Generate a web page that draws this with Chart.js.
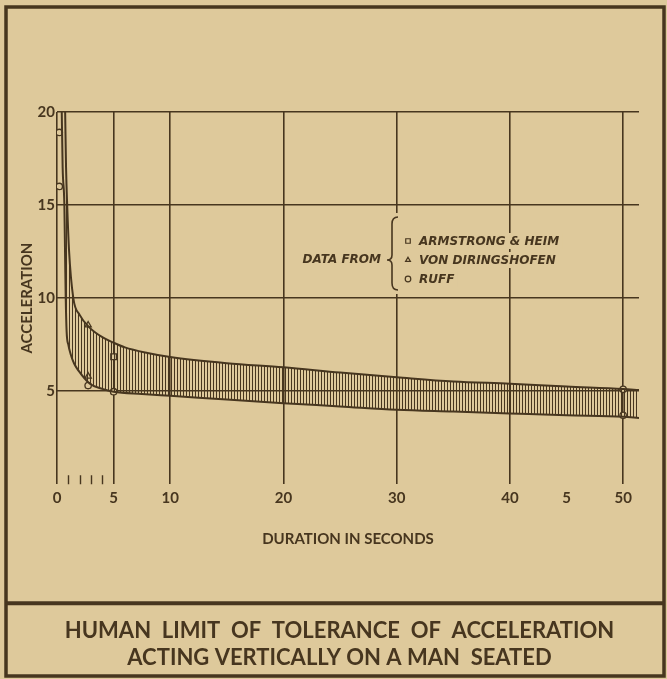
<!DOCTYPE html>
<html>
<head>
<meta charset="utf-8">
<script src="https://cdn.jsdelivr.net/npm/chart.js@4"></script>
<style>
  html, body { margin: 0; padding: 0; background: #dec99b; }
  #wrap { position: relative; width: 667px; height: 679px; }
</style>
</head>
<body>
<div id="wrap"><canvas id="chart"></canvas></div>
<script>
// axis ticks
const xTicks = [0, 5, 10, 20, 30, 40, 45, 50];
const xTickLabels = ['0', '5', '10', '20', '30', '40', '5', '50'];
const xMinorTicks = [1, 2, 3, 4];
const yTickLabels = { 5: '5', 10: '10', 15: '15', 20: '20' };

// limit curves
const upperX = [0.72, 0.8, 0.9, 1.06, 1.44, 2, 2.9, 4, 5, 6, 8, 10, 15, 20, 25, 30, 35, 40, 45, 50, 51.4];
const upperY = [20, 17, 15, 12.6, 10, 9.1, 8.4, 7.9, 7.6, 7.35, 7.05, 6.83, 6.5, 6.28, 6.0, 5.75, 5.52, 5.4, 5.25, 5.12, 5.06];
const lowerX = [0.42, 0.5, 0.65, 0.72, 0.77, 0.85, 1.0, 1.2, 1.5, 1.9, 2.9, 4, 5, 7.5, 10, 15, 20, 25, 30, 35, 40, 45, 50, 51.4];
const lowerY = [20, 17, 15, 12, 10, 8.2, 7.5, 7.0, 6.5, 6.1, 5.4, 5.12, 4.97, 4.85, 4.75, 4.55, 4.35, 4.18, 4.0, 3.9, 3.8, 3.7, 3.62, 3.56];

// observed data
const armstrongX = [5];
const armstrongY = [6.85];
const diringshofenX = [2.75, 2.75];
const diringshofenY = [8.55, 5.8];
const ruffX = [0.2, 0.2, 2.75, 5, 50, 50];
const ruffY = [18.9, 16, 5.3, 4.97, 5.1, 3.7];

const titleLines = ['HUMAN  LIMIT  OF  TOLERANCE  OF  ACCELERATION', 'ACTING VERTICALLY ON A MAN  SEATED'];

const ink = '#47361f';
const paper = '#dec99b';

const pts = (xs, ys) => xs.map((x, i) => ({ x: x, y: ys[i] }));

const canvas = document.getElementById('chart');

function hatchPattern() {
  const c = document.createElement('canvas');
  c.width = 3;
  c.height = 4;
  const g = c.getContext('2d');
  g.fillStyle = ink;
  g.fillRect(0, 0, 1, 4);
  return canvas.getContext('2d').createPattern(c, 'repeat');
}

const paperPlugin = {
  id: 'paper',
  beforeDraw(chart) {
    const ctx = chart.ctx;
    ctx.save();
    ctx.fillStyle = paper;
    ctx.fillRect(0, 0, chart.width, chart.height);
    ctx.restore();
  },
  afterDraw(chart) {
    const ctx = chart.ctx;
    const xs = chart.scales.x, area = chart.chartArea;
    ctx.save();
    ctx.strokeStyle = ink;
    // small ticks for 1..4 seconds
    ctx.lineWidth = 1.4;
    ctx.beginPath();
    xMinorTicks.forEach(v => {
      const px = Math.round(xs.getPixelForValue(v)) + 0.5;
      ctx.moveTo(px, area.bottom);
      ctx.lineTo(px, area.bottom - 9);
    });
    ctx.stroke();
    // frame + title separator
    ctx.lineWidth = 3.5;
    ctx.strokeRect(6, 7, 658, 669);
    ctx.lineWidth = 4;
    ctx.beginPath();
    ctx.moveTo(6, xs.bottom);
    ctx.lineTo(664, xs.bottom);
    ctx.stroke();
    ctx.restore();
  }
};

const dataFromLegend = {
  id: 'dataFrom',
  afterDatasetsDraw(chart) {
    const ctx = chart.ctx;
    const rows = [241, 260, 279];
    const markerX = 408, textX = 419;
    ctx.save();
    ctx.font = 'italic bold 12px "DejaVu Sans"';
    ctx.textBaseline = 'middle';

    // "DATA FROM"
    const label = 'DATA FROM';
    const lw = ctx.measureText(label).width;
    ctx.fillStyle = paper;
    ctx.fillRect(381 - lw - 2, 252, lw + 4, 16);
    ctx.fillRect(385, 213, 15, 81);
    ctx.fillStyle = ink;
    ctx.textAlign = 'right';
    ctx.fillText(label, 381, 260);

    // brace
    ctx.strokeStyle = ink;
    ctx.lineWidth = 1.6;
    const top = 217, bot = 290, mid = 260, sx = 392, tip = 387, ex = 398;
    ctx.beginPath();
    ctx.moveTo(ex, top);
    ctx.quadraticCurveTo(sx, top, sx, top + 7);
    ctx.lineTo(sx, mid - 5);
    ctx.quadraticCurveTo(sx, mid, tip, mid);
    ctx.quadraticCurveTo(sx, mid, sx, mid + 5);
    ctx.lineTo(sx, bot - 7);
    ctx.quadraticCurveTo(sx, bot, ex, bot);
    ctx.stroke();

    // entries
    ctx.textAlign = 'left';
    chart.data.datasets.slice(2).forEach((ds, i) => {
      const y = rows[i];
      const w = ctx.measureText(ds.label).width;
      ctx.fillStyle = paper;
      ctx.fillRect(markerX - 5, y - 8, textX - markerX + w + 8, 16);
      ctx.strokeStyle = ink;
      ctx.lineWidth = 1.2;
      Chart.helpers.drawPoint(ctx, {
        pointStyle: ds.pointStyle,
        radius: ds.pointStyle === 'rect' ? 3.2 : 2.8,
        borderWidth: 1.2,
        rotation: 0
      }, markerX, y);
      ctx.fillStyle = ink;
      ctx.fillText(ds.label, textX, y + 0.5);
    });
    ctx.restore();
  }
};

const markerBase = {
  backgroundColor: paper,
  borderColor: ink,
  borderWidth: 1.3,
  showLine: false
};

new Chart(canvas, {
  type: 'scatter',
  data: {
    datasets: [
      {
        type: 'line',
        label: 'upper limit',
        data: pts(upperX, upperY),
        borderColor: ink,
        borderWidth: 2,
        pointRadius: 0,
        cubicInterpolationMode: 'monotone',
        fill: '+1',
        backgroundColor: hatchPattern()
      },
      {
        type: 'line',
        label: 'lower limit',
        data: pts(lowerX, lowerY),
        borderColor: ink,
        borderWidth: 2,
        pointRadius: 0,
        cubicInterpolationMode: 'monotone',
        fill: false
      },
      Object.assign({ label: 'ARMSTRONG & HEIM', data: pts(armstrongX, armstrongY), pointStyle: 'rect', pointRadius: 4 }, markerBase),
      Object.assign({ label: 'VON DIRINGSHOFEN', data: pts(diringshofenX, diringshofenY), pointStyle: 'triangle', pointRadius: 3.6 }, markerBase),
      Object.assign({ label: 'RUFF', data: pts(ruffX, ruffY), pointStyle: 'circle', pointRadius: 3.2 }, markerBase)
    ]
  },
  options: {
    responsive: true,
    maintainAspectRatio: false,
    animation: false,
    events: [],
    layout: { padding: { top: 112, left: 12, right: 0, bottom: 0 } },
    plugins: {
      legend: { display: false },
      tooltip: { enabled: false },
      title: {
        display: true,
        position: 'bottom',
        text: titleLines,
        color: ink,
        font: { family: 'Lato', size: 22, weight: 'bold', lineHeight: 1.2 },
        padding: { top: 15, bottom: 8 }
      }
    },
    scales: {
      x: {
        type: 'linear',
        min: 0,
        max: 51.4,
        afterBuildTicks: axis => { axis.ticks = xTicks.map(v => ({ value: v })); },
        afterFit: axis => { axis.height = 119; },
        border: { display: false },
        grid: {
          drawTicks: false,
          lineWidth: 1.6,
          color: c => (c.tick && c.tick.value === 45) ? 'rgba(0,0,0,0)' : ink
        },
        ticks: {
          color: ink,
          padding: 5,
          maxRotation: 0,
          autoSkip: false,
          font: { family: 'Lato', size: 15, weight: 'bold' },
          callback: (v) => xTickLabels[xTicks.indexOf(v)]
        },
        title: {
          display: true,
          text: 'DURATION IN SECONDS',
          color: ink,
          font: { family: 'Lato', size: 15, weight: 'bold', lineHeight: 1.2 },
          padding: { top: 0, bottom: 55 }
        }
      },
      y: {
        min: 0,
        max: 20,
        afterFit: axis => { axis.width = 45; },
        border: { display: false },
        grid: {
          drawTicks: false,
          lineWidth: 1.6,
          color: c => (c.tick && c.tick.value === 0) ? 'rgba(0,0,0,0)' : ink
        },
        ticks: {
          stepSize: 5,
          color: ink,
          padding: 2,
          font: { family: 'Lato', size: 15, weight: 'bold' },
          callback: v => yTickLabels[v] || ''
        },
        title: {
          display: true,
          text: 'ACCELERATION',
          color: ink,
          font: { family: 'Lato', size: 15, weight: 'bold', lineHeight: 1.2 },
          padding: { top: 6, bottom: 0 }
        }
      },
      yPad: {
        position: 'right',
        display: true,
        grid: { display: false },
        border: { display: false },
        ticks: { display: false },
        afterFit: axis => { axis.width = 28; }
      }
    }
  },
  plugins: [paperPlugin, dataFromLegend]
});
</script>
</body>
</html>
